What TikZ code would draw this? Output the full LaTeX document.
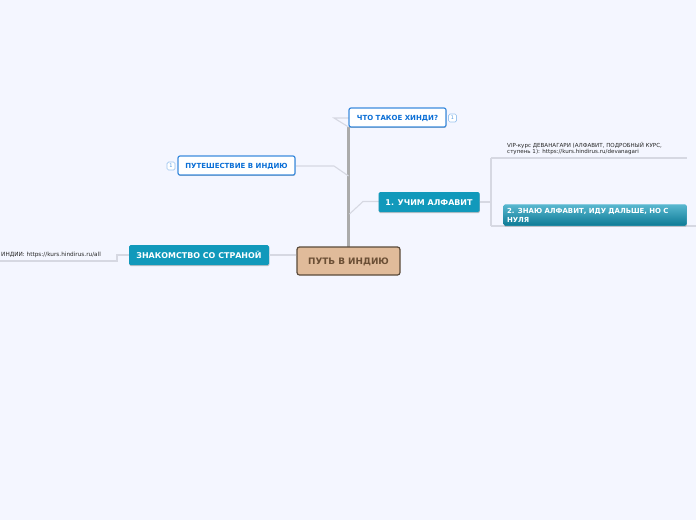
\documentclass[tikz,border=0pt]{standalone}
\usepackage{fontspec}
\setmainfont{DejaVu Sans}
\usetikzlibrary{shapes,arrows,positioning,calc,shadows}
\definecolor{pagebg}{HTML}{F4F6FF}
\definecolor{tealbox}{HTML}{1199BB}
\definecolor{linkgray}{HTML}{D6D8E2}
\definecolor{trunkgray}{HTML}{ABABAB}
\definecolor{bluetext}{HTML}{0B6FD6}
\definecolor{rootfill}{HTML}{E0BB9A}
\definecolor{rootline}{HTML}{5A4A3A}
\definecolor{roottext}{HTML}{6B4F35}
\tikzset{
    topicbox/.style={draw=none, fill=tealbox, rounded corners=1.5pt, text=white, font=\bfseries\fontsize{7.95}{9}\selectfont, inner sep=0pt, text height=6pt, text depth=0pt, drop shadow={shadow xshift=0.3pt, shadow yshift=-1.2pt, fill=black!45, opacity=0.5}},
    whitebox/.style={draw=bluetext!80, line width=1.2pt, fill=white, rounded corners=2pt, text=bluetext, font=\bfseries\fontsize{7}{8}\selectfont, inner sep=0pt, text height=5pt, text depth=0pt, drop shadow={shadow xshift=0.3pt, shadow yshift=-0.9pt, fill=black!60, opacity=0.5}},
    rootbox/.style={draw=rootline, line width=1.2pt, fill=rootfill, rounded corners=2.5pt, text=roottext, font=\bfseries\fontsize{8.9}{10}\selectfont, inner sep=0pt, text height=6.5pt, text depth=0pt},
    infobox/.style={draw=bluetext!40, line width=0.7pt, fill=white, rounded corners=1.5pt, text=bluetext!70, font=\fontsize{5}{5}\selectfont, inner sep=0pt, minimum width=8pt, minimum height=8pt},
    notetext/.style={font=\fontsize{5.55}{6.2}\selectfont, text=black!85, align=left, inner sep=0pt},
    branch/.style={draw=linkgray, line width=1.1pt},
    trunk/.style={draw=trunkgray, line width=3pt}
}
\begin{document}
\begin{tikzpicture}[x=1pt,y=-1pt]
    \useasboundingbox[fill=pagebg] (0,0) rectangle (696,520);

    % Free ends of the links
    \coordinate (hindi elbow) at (334,118);
    \coordinate (hindi foot) at (348.5,127);
    \coordinate (trip elbow) at (334,166);
    \coordinate (trip foot) at (348.5,176);
    \coordinate (abc elbow) at (363,201.5);
    \coordinate (abc foot) at (349.5,214);
    \coordinate (fork) at (491,202);
    \coordinate (vip end) at (687,158);
    \coordinate (next end) at (696,226);
    \coordinate (country end) at (0,261);

    % Trunk and main links
    \draw[trunk] (348.5,247) -- (hindi foot);
    \draw[branch] (hindi foot) -- (hindi elbow) -- (349,118);
    \draw[branch] (trip foot) -- (trip elbow) -- (296,166);
    \draw[branch] (abc foot) -- (abc elbow) -- (379,201.5);

    % Root
    \node[rootbox, minimum width=103pt, minimum height=28pt] (root) at (348.5,261) {ПУТЬ В ИНДИЮ};

    % Topics
    \node[whitebox, minimum width=97pt, minimum height=19pt] (hindi) at (397.5,117.5) {ЧТО ТАКОЕ ХИНДИ?};
    \node[whitebox, minimum width=117pt, minimum height=19pt] (trip) at (236.5,165.5) {ПУТЕШЕСТВИЕ В ИНДИЮ};
    \node[topicbox, minimum width=101pt, minimum height=20pt] (abc) at (429,202) {1. УЧИМ АЛФАВИТ};
    \node[topicbox, minimum width=140pt, minimum height=20pt] (country) at (199,255) {ЗНАКОМСТВО СО СТРАНОЙ};

    % Info marks
    \node[infobox] (hindi info) at (452.5,118) {1};
    \node[infobox] (trip info) at (171,166) {1};

    % Right side
    \draw[branch] (abc.east) -- (fork);
    \draw[branch] (fork |- vip end) -- (vip end);
    \draw[branch] (fork |- next end) -- (next end);
    \draw[branch] (fork |- vip end) -- (fork |- next end);
    \node[notetext, anchor=south west] (vip) at (507,155) {VIP-курс ДЕВАНАГАРИ (АЛФАВИТ, ПОДРОБНЫЙ КУРС,\\ступень 1): https://kurs.hindirus.ru/devanagari};
    \node[topicbox, top color=tealbox!70!white, bottom color=tealbox!80!black, text height=, text depth=, text width=176pt, align=left, minimum width=183pt, minimum height=21pt, font=\bfseries\fontsize{6.95}{9}\selectfont] (next) at (595,215) {2. ЗНАЮ АЛФАВИТ, ИДУ ДАЛЬШЕ, НО С НУЛЯ};

    % Left side
    \draw[branch] (root.west |- country) -- (country.east);
    \coordinate (country elbow) at (117,255);
    \draw[branch] (country.west) -- (country elbow) -- (117,261) -- (country end);
    \node[notetext, anchor=west, font=\fontsize{5.75}{6.2}\selectfont] (site) at (1,255) {ИНДИИ: https://kurs.hindirus.ru/all};
\end{tikzpicture}
\end{document}
